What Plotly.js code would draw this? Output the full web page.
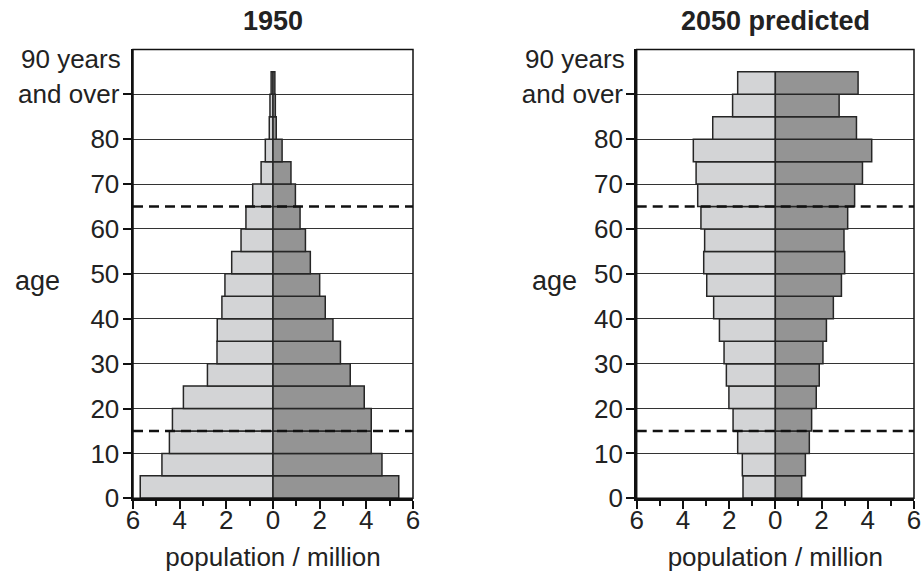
<!DOCTYPE html>
<html>
<head>
<meta charset="utf-8">
<script src="https://cdn.plot.ly/plotly-3.0.1.min.js"></script>
<style>html,body{margin:0;padding:0;background:#fff;}#chart{width:924px;height:576px;}</style>
</head>
<body>
<div id="chart"></div>
<script>
// Age groups (start of each 5-year band; last band = 90 and over)
const ageStart = [0,5,10,15,20,25,30,35,40,45,50,55,60,65,70,75,80,85,90];
// Population in millions, 1950
const left1950  = [5.69,4.76,4.44,4.31,3.84,2.81,2.40,2.39,2.19,2.06,1.77,1.37,1.16,0.87,0.51,0.33,0.16,0.13,0.08];
const right1950 = [5.39,4.67,4.21,4.21,3.91,3.31,2.89,2.57,2.24,2.00,1.60,1.39,1.16,0.96,0.77,0.39,0.14,0.10,0.08];
// Population in millions, 2050 predicted
const left2050  = [1.40,1.43,1.63,1.83,2.01,2.12,2.22,2.42,2.67,2.97,3.10,3.06,3.22,3.36,3.43,3.55,2.71,1.85,1.63];
const right2050 = [1.14,1.30,1.47,1.57,1.77,1.90,2.06,2.21,2.51,2.86,3.00,2.97,3.13,3.43,3.77,4.17,3.51,2.76,3.58];
// Axis labels
const xTickVals = [-6,-4,-2,0,2,4,6];
const xTickText = ['6','4','2','0','2','4','6'];
const yTickVals = [0,10,20,30,40,50,60,70,80,90];
const yTickText = ['0','10','20','30','40','50','60','70','80','and over'];
const titles = ['1950','2050 predicted'];
const dashedAges = [15,65];

const lightCol = '#d3d4d6', darkCol = '#949494', edge = '#262626';
const mid = ageStart.map(a => a + 2.5);
const FONT = 'Liberation Sans, Arial, Helvetica, sans-serif';

function bars(vals, sign, color, xa, ya){
  return {type:'bar', orientation:'h', y: mid, x: vals.map(v => sign*v), width: 5,
    xaxis: xa, yaxis: ya, marker:{color: color, line:{color: edge, width: 1.5}},
    hoverinfo:'x+y', showlegend:false};
}
const data = [
  bars(left1950, -1, lightCol, 'x', 'y'),
  bars(right1950, 1, darkCol, 'x', 'y'),
  bars(left2050, -1, lightCol, 'x2', 'y2'),
  bars(right2050, 1, darkCol, 'x2', 'y2')
];

const yDom = [1-498.3/576, 1-49.4/576];
function xax(dom, anchor){
  return {domain: dom, anchor: anchor, range:[-6,6], tickvals: xTickVals, ticktext: xTickText,
    ticks:'outside', ticklen: 8, tickwidth: 2, tickcolor:'#111', showline:true, linewidth:2.5, linecolor:'#111',
    showgrid:false, zeroline:false, fixedrange:true, ticklabelstandoff: -11,
    minor:{tickvals:[-5,-3,-1,1,3,5], ticks:'outside', ticklen:5, tickwidth:2, tickcolor:'#111', showgrid:false},
    tickfont:{family: FONT, size: 26, color:'#222'},
    title:{text:'population / million', font:{family: FONT, size: 26, color:'#222'}, standoff: 14}};
}
function yax(anchor){
  return {domain: yDom, anchor: anchor, range:[0,100], tickvals: yTickVals, ticktext: yTickText,
    ticks:'outside', ticklen: 8, tickwidth: 2, tickcolor:'#111', showline:true, linewidth:2.5, linecolor:'#111',
    showgrid:true, gridcolor:'#333', gridwidth:1, zeroline:false, fixedrange:true, ticklabelstandoff: -2,
    tickfont:{family: FONT, size: 26, color:'#222'}};
}
const xd1 = [133/924, 413/924], xd2 = [636.7/924, 914/924];
const layout = {
  width: 924, height: 576, margin:{l:0, r:0, t:0, b:0},
  paper_bgcolor:'#fff', plot_bgcolor:'#fff', barmode:'overlay', bargap:0,
  xaxis: xax(xd1, 'y'), yaxis: yax('x'),
  xaxis2: xax(xd2, 'y2'), yaxis2: yax('x2'),
  shapes: [],
  annotations: []
};
[['x','y'],['x2','y2']].forEach((p, i) => {
  layout.shapes.push({type:'rect', xref: p[0]+' domain', yref: p[1]+' domain', x0:0, x1:1, y0:0, y1:1,
    line:{color:'#111', width:1.5}, layer:'above'});
  dashedAges.forEach(a => layout.shapes.push({type:'line', xref: p[0]+' domain', yref: p[1], x0:0, x1:1, y0:a, y1:a,
    line:{color:'#111', width:2.5, dash:'10px,6px'}, layer:'above'}));
  const xd = i === 0 ? xd1 : xd2;
  layout.annotations.push({text:'<b>'+titles[i]+'</b>', xref:'paper', yref:'paper', x:(xd[0]+xd[1])/2, y:1-21/576,
    xanchor:'center', yanchor:'middle', showarrow:false, font:{family: FONT, size: 27, color:'#222'}});
  layout.annotations.push({text:'age', xref:'paper', yref: p[1], x: (i===0 ? 37 : 554)/924, y: 48.5,
    xanchor:'center', yanchor:'middle', showarrow:false, font:{family: FONT, size: 27, color:'#222'}});
  layout.annotations.push({text:'90 years', xref:'paper', yref: p[1], x: (xd[0]*924 - 10)/924, y: 90, yshift: 35,
    xanchor:'right', yanchor:'middle', showarrow:false, font:{family: FONT, size: 26, color:'#222'}});
});
Plotly.newPlot('chart', data, layout, {displayModeBar:false, staticPlot:true});
</script>
</body>
</html>
